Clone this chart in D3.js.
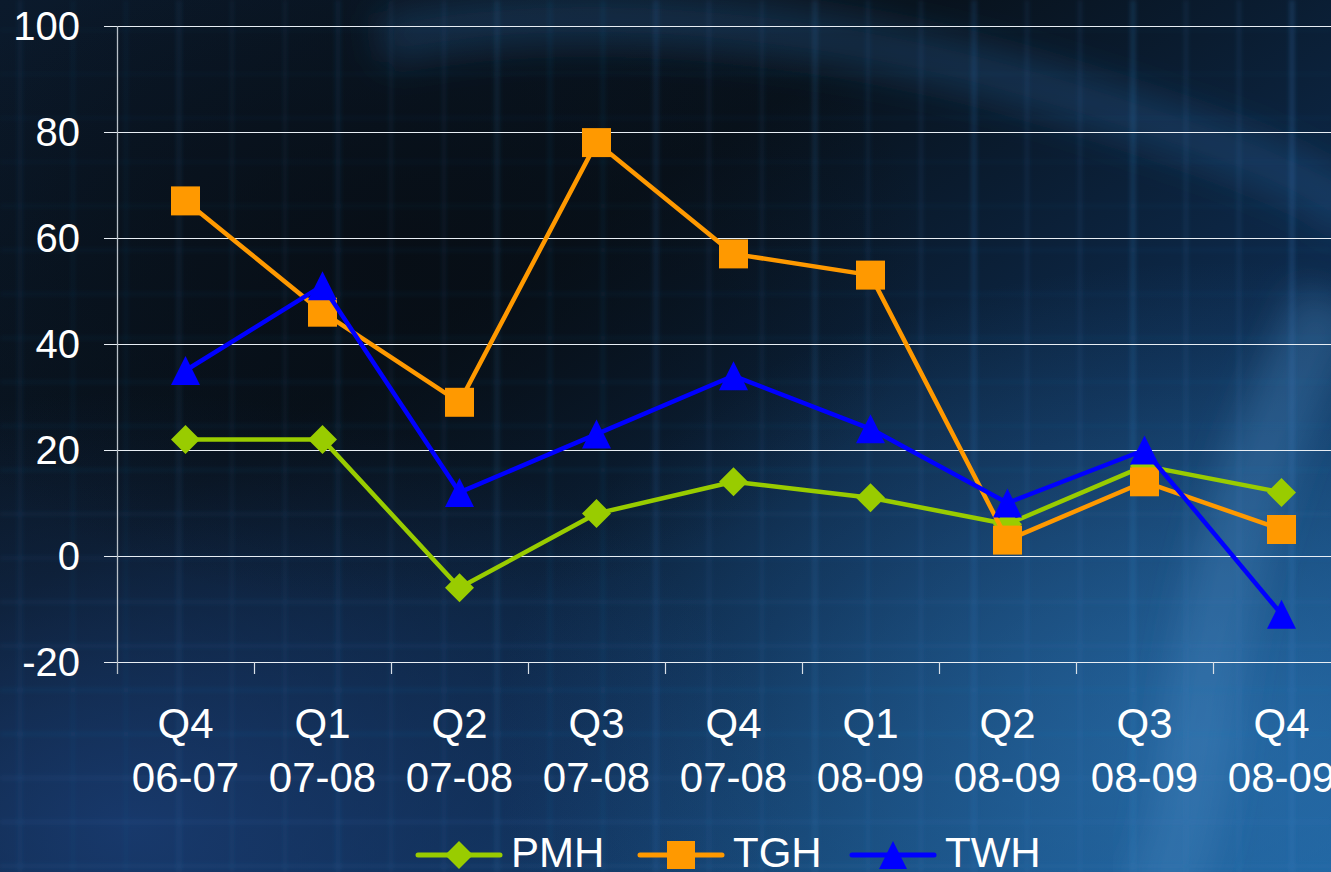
<!DOCTYPE html>
<html>
<head>
<meta charset="utf-8">
<script src="https://cdn.jsdelivr.net/npm/d3@7"></script>
<style>
  html, body { margin: 0; padding: 0; background: #0a1622; overflow: hidden; }
  svg { display: block; font-family: "Liberation Sans", Arial, sans-serif; }
</style>
</head>
<body>
<svg id="chart" width="1331" height="872"></svg>
<script>
// Quarterly values per hospital
const categories = [
  ["Q4", "06-07"], ["Q1", "07-08"], ["Q2", "07-08"], ["Q3", "07-08"], ["Q4", "07-08"],
  ["Q1", "08-09"], ["Q2", "08-09"], ["Q3", "08-09"], ["Q4", "08-09"]
];
const pmh = [22, 22, -6, 8, 14, 11, 6, 17, 12];
const tgh = [67, 46, 29, 78, 57, 53, 3, 14, 5];
const twh = [35, 51, 12, 23, 34, 24, 10, 20, -11];
const yTicks = [-20, 0, 20, 40, 60, 80, 100];
const seriesNames = ["PMH", "TGH", "TWH"];
const seriesColors = ["#99CC00", "#FF9900", "#0000FF"];
const seriesShapes = ["diamond", "square", "triangle"];

const W = 1331, H = 872;
const svg = d3.select("#chart");
const defs = svg.append("defs");

// ---------- backdrop ----------
const lg = defs.append("linearGradient").attr("id", "bgLin")
  .attr("x1", 0).attr("y1", 0).attr("x2", 1).attr("y2", 1);
lg.append("stop").attr("offset", 0).attr("stop-color", "#0b1a2c");
lg.append("stop").attr("offset", 0.35).attr("stop-color", "#08121c");
lg.append("stop").attr("offset", 0.65).attr("stop-color", "#0d2a4c");
lg.append("stop").attr("offset", 1).attr("stop-color", "#1a5c96");

const rg1 = defs.append("radialGradient").attr("id", "glowBR")
  .attr("cx", 0.92).attr("cy", 0.85).attr("r", 0.55);
rg1.append("stop").attr("offset", 0).attr("stop-color", "#2f78b8").attr("stop-opacity", 0.6);
rg1.append("stop").attr("offset", 1).attr("stop-color", "#2f78b8").attr("stop-opacity", 0);

const rg2 = defs.append("radialGradient").attr("id", "glowBL")
  .attr("cx", 0.1).attr("cy", 0.95).attr("r", 0.5);
rg2.append("stop").attr("offset", 0).attr("stop-color", "#1b3f78").attr("stop-opacity", 0.8);
rg2.append("stop").attr("offset", 1).attr("stop-color", "#1b3f78").attr("stop-opacity", 0);

const rg3 = defs.append("radialGradient").attr("id", "darkC")
  .attr("cx", 0.3).attr("cy", 0.3).attr("r", 0.4);
rg3.append("stop").attr("offset", 0).attr("stop-color", "#070d14").attr("stop-opacity", 0.8);
rg3.append("stop").attr("offset", 1).attr("stop-color", "#070d14").attr("stop-opacity", 0);

defs.append("filter").attr("id", "soft").attr("x", "-20%").attr("y", "-20%")
  .attr("width", "140%").attr("height", "140%")
  .append("feGaussianBlur").attr("stdDeviation", 18);
defs.append("filter").attr("id", "soft2")
  .append("feGaussianBlur").attr("stdDeviation", 2);

const bg = svg.append("g");
bg.append("rect").attr("width", W).attr("height", H).attr("fill", "url(#bgLin)");
bg.append("rect").attr("width", W).attr("height", H).attr("fill", "url(#glowBL)");
bg.append("rect").attr("width", W).attr("height", H).attr("fill", "url(#glowBR)");
bg.append("rect").attr("width", W).attr("height", H).attr("fill", "url(#darkC)");

// sweeping light bands
bg.append("path")
  .attr("d", "M 380 40 C 560 0, 820 20, 1050 90 S 1331 190, 1360 220")
  .attr("fill", "none").attr("stroke", "#2e6aa6").attr("stroke-opacity", 0.3)
  .attr("stroke-width", 50).attr("filter", "url(#soft)");
bg.append("path")
  .attr("d", "M 1331 300 C 1260 440, 1220 560, 1200 720 S 1170 872, 1150 900")
  .attr("fill", "none").attr("stroke", "#4f8fc8").attr("stroke-opacity", 0.3)
  .attr("stroke-width", 70).attr("filter", "url(#soft)");

// faint woven grid texture
const tex = bg.append("g").attr("filter", "url(#soft2)");
const vx = d3.range(20, W, 53);
const hy = d3.range(30, H, 44);
tex.selectAll("line.v").data(vx).join("line")
  .attr("x1", d => d).attr("x2", d => d).attr("y1", 0).attr("y2", H)
  .attr("stroke", "#3a7cc0")
  .attr("stroke-opacity", (d, i) => 0.08 + 0.14 * (d / W) * ((i % 3) ? 0.7 : 1.2))
  .attr("stroke-width", (d, i) => (i % 3) ? 3 : 5);
tex.selectAll("line.h").data(hy).join("line")
  .attr("y1", d => d).attr("y2", d => d).attr("x1", 0).attr("x2", W)
  .attr("stroke", "#3a7cc0")
  .attr("stroke-opacity", d => 0.04 + 0.1 * (d / H))
  .attr("stroke-width", 3);

// ---------- scales ----------
const plotLeft = 117, plotTop = 26, plotBottom = 662;
const x = d3.scaleBand().domain(d3.range(categories.length))
  .range([plotLeft, plotLeft + 137 * categories.length]).padding(0);
const y = d3.scaleLinear().domain([-20, 100]).range([plotBottom, plotTop]);
const cx = i => x(i) + x.bandwidth() / 2;

// ---------- axes ----------
const gridG = svg.append("g");
gridG.selectAll("line").data(yTicks).join("line")
  .attr("x1", plotLeft - 13).attr("x2", W)
  .attr("y1", d => Math.round(y(d)) + 0.5).attr("y2", d => Math.round(y(d)) + 0.5)
  .attr("stroke", "#e8eef4").attr("stroke-width", 1.2);

const yAxis = svg.append("g").attr("transform", `translate(${plotLeft},0)`)
  .call(d3.axisLeft(y).tickValues(yTicks).tickSize(0).tickPadding(37).tickFormat(d => String(d)));
yAxis.select(".domain").remove();
yAxis.selectAll("text").attr("fill", "#ffffff").attr("font-size", 40)
  .attr("font-family", "Liberation Sans, Arial, sans-serif").attr("dy", "0.34em");

svg.append("line").attr("x1", plotLeft + 0.5).attr("x2", plotLeft + 0.5)
  .attr("y1", plotTop).attr("y2", plotBottom + 12)
  .attr("stroke", "#b8c0c8").attr("stroke-width", 1.3);

// category boundaries below the axis
const bounds = d3.range(1, categories.length + 1);
svg.append("g").selectAll("line").data(bounds).join("line")
  .attr("x1", d => Math.round(x(0) + d * x.bandwidth()) + 0.5)
  .attr("x2", d => Math.round(x(0) + d * x.bandwidth()) + 0.5)
  .attr("y1", plotBottom).attr("y2", plotBottom + 12)
  .attr("stroke", "#d8e0e8").attr("stroke-width", 1.2);

const xAxis = svg.append("g").attr("transform", `translate(0,${plotBottom})`)
  .call(d3.axisBottom(x).tickSize(0).tickFormat(() => ""));
xAxis.select(".domain").remove();
xAxis.selectAll(".tick text").each(function (i) {
  const t = d3.select(this).attr("fill", "#ffffff").attr("font-size", 42)
    .attr("font-family", "Liberation Sans, Arial, sans-serif")
    .attr("y", 0).attr("dy", null).attr("text-anchor", "middle");
  t.append("tspan").attr("x", 0).attr("y", 76).text(categories[i][0]);
  t.append("tspan").attr("x", 0).attr("y", 130).text(categories[i][1]);
});

// ---------- series ----------
const markerPath = (shape, s) => {
  const h = s / 2;
  if (shape === "diamond") return `M0,${-h}L${h},0L0,${h}L${-h},0Z`;
  if (shape === "square") return `M${-h},${-h}H${h}V${h}H${-h}Z`;
  return `M0,${-h}L${h},${h}L${-h},${h}Z`;
};

const allSeries = [pmh, tgh, twh];
const line = d3.line().x((d, i) => cx(i)).y(d => y(d));
const plot = svg.append("g");
allSeries.forEach((vals, si) => {
  const g = plot.append("g");
  g.append("path").datum(vals).attr("d", line)
    .attr("fill", "none").attr("stroke", seriesColors[si]).attr("stroke-width", 4.5)
    .attr("stroke-linejoin", "round");
  g.selectAll("path.m").data(vals).join("path").attr("class", "m")
    .attr("transform", (d, i) => `translate(${cx(i)},${y(d)})`)
    .attr("d", markerPath(seriesShapes[si], 29))
    .attr("fill", seriesColors[si]);
});

// ---------- legend ----------
const legendX = [418, 640, 852];
const legY = 855;
const lgG = svg.append("g");
seriesNames.forEach((name, si) => {
  const x0 = legendX[si];
  const g = lgG.append("g");
  g.append("line").attr("x1", x0).attr("x2", x0 + 82)
    .attr("y1", legY).attr("y2", legY)
    .attr("stroke", seriesColors[si]).attr("stroke-width", 5).attr("stroke-linecap", "round");
  g.append("path")
    .attr("transform", `translate(${x0 + 41},${legY})`)
    .attr("d", markerPath(seriesShapes[si], 28))
    .attr("fill", seriesColors[si]);
  g.append("text")
    .attr("x", x0 + 93).attr("y", 867)
    .attr("fill", "#ffffff").attr("font-size", 42)
    .attr("font-family", "Liberation Sans, Arial, sans-serif")
    .text(name);
});
</script>
</body>
</html>
